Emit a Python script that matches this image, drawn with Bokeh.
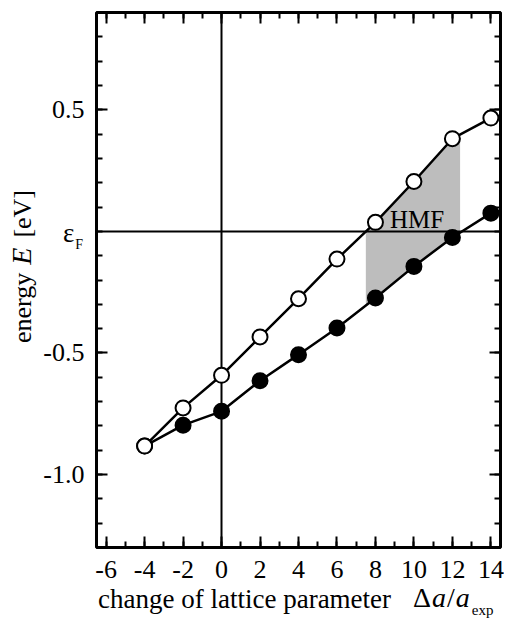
import numpy as np
from bokeh.plotting import figure
from bokeh.layouts import column
from bokeh.models import LinearAxis, FixedTicker, Range1d, Label, CustomJSTickFormatter, Div
from bokeh.embed import file_html
from bokeh.resources import INLINE

# ---- data ----
lattice_change = [-4, -2, 0, 2, 4, 6, 8, 10, 12, 14]
energy_open = [-0.883, -0.726, -0.592, -0.434, -0.277, -0.114, 0.037, 0.205, 0.381, 0.466]
energy_filled = [-0.883, -0.797, -0.740, -0.614, -0.507, -0.397, -0.274, -0.144, -0.025, 0.075]
hmf_start = 7.5
hmf_end = 12.4
x_ticks = [-6, -4, -2, 0, 2, 4, 6, 8, 10, 12, 14]
x_tick_labels = ["-6", "-4", "-2", "0", "2", "4", "6", "8", "10", "12", "14"]
y_ticks = [-1.0, -0.5, 0.5]
y_tick_labels = ["-1.0", "-0.5", "0.5"]

X0, X1 = -6.5, 14.5
Y0, Y1 = -1.3, 0.9
FW, FH = 404, 535
BL, BT = 96, 12
FONT = "Liberation Serif"

p = figure(frame_width=FW, frame_height=FH,
           x_range=Range1d(X0, X1), y_range=Range1d(Y0, Y1),
           output_backend="svg", toolbar_location=None,
           min_border_left=BL, min_border_right=4, min_border_top=BT, min_border_bottom=73,
           background_fill_color="white", border_fill_color="white")
p.grid.visible = False
p.outline_line_color = "black"
p.outline_line_width = 3

x_minor = list(np.arange(-7, 15, 1))
y_minor = list(np.round(np.arange(-1.3, 0.95, 0.1), 2))

def style_axis(ax, ticks, minor, labels):
    ax.ticker = FixedTicker(ticks=ticks, minor_ticks=minor)
    ax.axis_line_color = None
    ax.major_tick_in = 11
    ax.major_tick_out = 0
    ax.minor_tick_in = 6
    ax.minor_tick_out = 0
    ax.major_tick_line_width = 2
    ax.minor_tick_line_width = 2
    ax.major_tick_line_color = "black"
    ax.minor_tick_line_color = "black"
    if labels is None:
        ax.formatter = CustomJSTickFormatter(code="return ''")
        ax.major_label_standoff = 0
    else:
        ax.major_label_overrides = {t: l for t, l in zip(ticks, labels)}
        ax.major_label_text_font = FONT
        ax.major_label_text_font_size = "26px"
        ax.major_label_text_color = "black"

style_axis(p.xaxis[0], x_ticks, x_minor, x_tick_labels)
p.xaxis[0].major_label_standoff = 13
style_axis(p.yaxis[0], y_ticks, y_minor, y_tick_labels)
p.yaxis[0].major_label_standoff = 12

top_ax = LinearAxis()
style_axis(top_ax, x_ticks, x_minor, None)
p.add_layout(top_ax, "above")
right_ax = LinearAxis()
style_axis(right_ax, y_ticks, y_minor, None)
p.add_layout(right_ax, "right")

# ---- shaded half-metallic region ----
inner = [x for x in lattice_change if hmf_start < x < hmf_end]
xs_top = [hmf_start] + inner + [hmf_end]
ys_top = list(np.interp(xs_top, lattice_change, energy_open))
ys_bot = list(np.interp(xs_top, lattice_change, energy_filled))
p.patch(xs_top + xs_top[::-1], ys_top + ys_bot[::-1], fill_color="#bdbdbd", line_color=None)

# zero lines
p.hspan(y=[0], line_color="black", line_width=2)
p.vspan(x=[0], line_color="black", line_width=2)

p.line(lattice_change, energy_filled, line_color="black", line_width=2.5)
p.line(lattice_change, energy_open, line_color="black", line_width=2.5)
p.scatter(lattice_change, energy_filled, size=15, fill_color="black", line_color="black", line_width=2)
p.scatter(lattice_change, energy_open, size=15, fill_color="white", line_color="black", line_width=2)

# HMF label (inside the frame)
p.add_layout(Label(x=hmf_start + 1.25, y=0.049, text="HMF", text_font=FONT,
                   text_font_size="25px", text_baseline="middle", text_color="black"))

SPAN = "font-family:'Liberation Serif',serif;color:black;white-space:nowrap;"

def div(html, left, top, extra=None):
    st = {"position": "absolute", "left": f"{left}px", "top": f"{top}px",
          "white-space": "nowrap", "margin": "0", "padding": "0"}
    if extra:
        st.update(extra)
    return Div(text=html, styles=st)

y_title = div(f'<span style="{SPAN}font-size:26px;line-height:26px">energy'
              f'<span style="margin-left:8px;font-style:italic;font-size:28px">E</span>'
              f'<span style="margin-left:10px">[eV]</span></span>',
              9, 343, {"transform": "rotate(-90deg)", "transform-origin": "0 0"})

eps_f = div(f'<span style="{SPAN}font-size:27px;line-height:26px">\u03b5'
            f'<span style="font-size:14px;position:relative;top:7px;margin-left:1px">F</span></span>',
            63, 220)

x_title = div(f'<span style="{SPAN}font-size:27px;line-height:26px">change of lattice parameter</span>',
              98, 586)
x_title2 = div(f'<span style="{SPAN}font-size:28px;line-height:26px;letter-spacing:1px">\u0394<i>a</i>/<i>a</i>'
               f'<span style="font-size:15px;position:relative;top:8px;margin-left:1px;letter-spacing:0">exp</span></span>',
               413, 585)

layout = column(p, y_title, eps_f, x_title, x_title2)
open("out.html", "w").write(file_html(layout, INLINE))
